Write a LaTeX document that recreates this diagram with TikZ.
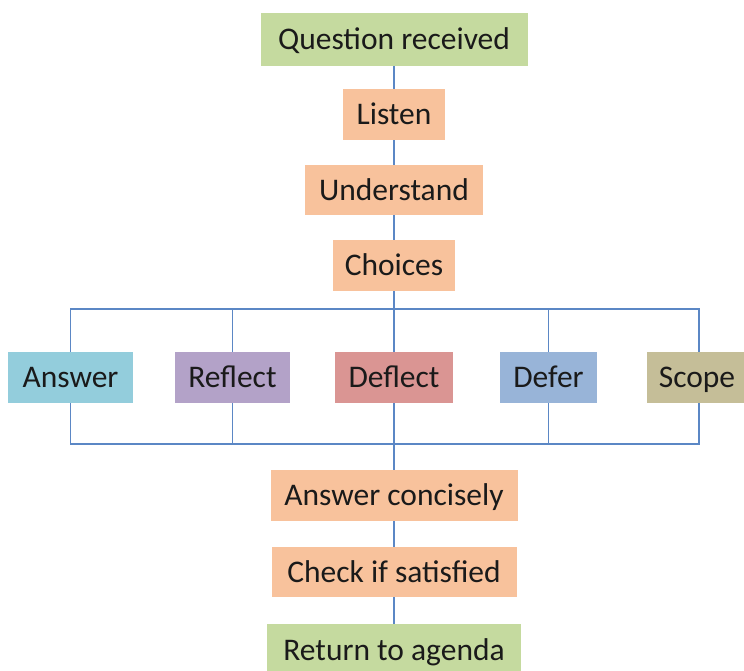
\documentclass[tikz,border=0pt]{standalone}
\usepackage{fontspec}
\setmainfont{Carlito}
\definecolor{linkblue}{HTML}{5B87C5}
\definecolor{stepgreen}{HTML}{C5DA9F}
\definecolor{steporange}{HTML}{F8C29C}
\definecolor{optblue}{HTML}{93CDDC}
\definecolor{optpurple}{HTML}{B3A2C8}
\definecolor{optred}{HTML}{DA9593}
\definecolor{optsteel}{HTML}{98B4D8}
\definecolor{optkhaki}{HTML}{C5BE98}
\definecolor{ink}{HTML}{1A1A1A}
\begin{document}
\begin{tikzpicture}[x=1pt,y=-1pt,
  box/.style={rectangle, inner sep=0pt, text=ink, text height=20.5pt, text depth=0pt,
    font=\fontsize{31.5}{34}\selectfont},
  link/.style={draw=linkblue, line width=1.6pt}]
\useasboundingbox (0,0) rectangle (744,671);
\begin{scope}
\clip (0,0) rectangle (744,671);
\coordinate (tb) at (0,309);
\coordinate (bb) at (0,444);
% main column
\node[box, fill=stepgreen, minimum width=267pt, minimum height=53pt] (q) at (394,39.5) {Question received};
\node[box, fill=steporange, minimum width=102pt, minimum height=51pt] (listen) at (394,114.5) {Listen};
\node[box, fill=steporange, minimum width=178pt, minimum height=50pt] (understand) at (394,190) {Understand};
\node[box, fill=steporange, minimum width=122pt, minimum height=51pt] (choices) at (394,265.5) {Choices};
% options
\node[box, fill=optblue, minimum width=125pt, minimum height=51pt] (answer) at (70.5,377.5) {Answer};
\node[box, fill=optpurple, minimum width=115pt, minimum height=51pt] (reflect) at (232.5,377.5) {Reflect};
\node[box, fill=optred, minimum width=118pt, minimum height=51pt] (deflect) at (394,377.5) {Deflect};
\node[box, fill=optsteel, minimum width=97pt, minimum height=51pt] (defer) at (548.5,377.5) {Defer};
\node[box, fill=optkhaki, minimum width=104pt, minimum height=51pt] (scope) at (699,377.5) {\hspace*{-4pt}Scope};
% closing steps
\node[box, fill=steporange, minimum width=247pt, minimum height=51pt] (concise) at (394,495.5) {Answer concisely};
\node[box, fill=steporange, minimum width=245pt, minimum height=50pt] (check) at (394,572) {Check if satisfied};
\node[box, fill=stepgreen, minimum width=254pt, minimum height=52pt] (ret) at (394,650) {Return to agenda};
\end{scope}
% connectors
\draw[link] (q.south) -- (listen.north);
\draw[link] (listen.south) -- (understand.north);
\draw[link] (understand.south) -- (choices.north);
\draw[link] (choices.south) -- (deflect.north);
\draw[link] (answer.north) -- (answer.north |- tb) -- (scope.north |- tb) -- (scope.north);
\draw[link] (reflect.north) -- (reflect.north |- tb);
\draw[link] (defer.north) -- (defer.north |- tb);
\draw[link] (answer.south) -- (answer.south |- bb) -- (scope.south |- bb) -- (scope.south);
\draw[link] (reflect.south) -- (reflect.south |- bb);
\draw[link] (defer.south) -- (defer.south |- bb);
\draw[link] (deflect.south) -- (concise.north);
\draw[link] (concise.south) -- (check.north);
\draw[link] (check.south) -- (ret.north);
\end{tikzpicture}
\end{document}
